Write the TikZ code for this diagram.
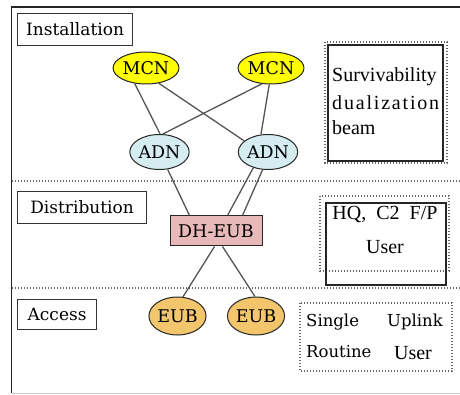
\documentclass[tikz,border=0pt]{standalone}
\usepackage{fontspec}
\setmainfont{Liberation Serif}
\newfontfamily\slabfont{DejaVu Serif}
\usetikzlibrary{shapes.geometric}
\definecolor{mcnfill}{HTML}{FFFF00}
\definecolor{adnfill}{HTML}{D5ECF0}
\definecolor{dhfill}{HTML}{E8B9B9}
\definecolor{eubfill}{HTML}{F3C66E}
\definecolor{edgecol}{HTML}{555555}
\definecolor{dotcol}{HTML}{666666}
\tikzset{
  netnode/.style={ellipse, draw=black!85, line width=1pt, inner sep=0pt,
    font=\slabfont\fontsize{17.5}{19}\selectfont},
  mcnnode/.style={netnode, fill=mcnfill, minimum width=56pt, minimum height=32pt},
  adnnode/.style={netnode, fill=adnfill, minimum width=58pt, minimum height=35pt},
  eubnode/.style={netnode, fill=eubfill, minimum width=52pt, minimum height=38pt},
  dhnode/.style={rectangle, draw=black!85, line width=1pt, fill=dhfill, inner sep=0pt,
    minimum width=92pt, minimum height=30pt, font=\slabfont\fontsize{17.5}{19}\selectfont},
  layerbox/.style={rectangle, draw=black!80, line width=1.2pt, inner sep=0pt,
    anchor=north west, minimum height=32pt, font=\slabfont\fontsize{17}{19}\selectfont},
  link/.style={draw=edgecol, line width=1.3pt},
  dotline/.style={draw=dotcol, line width=1.2pt, dash pattern=on 1.4pt off 1.6pt},
  solidbox/.style={draw=black!85, line width=1.2pt},
  boxtext/.style={inner sep=0pt, font=\fontsize{20}{22}\selectfont},
  slabtext/.style={inner sep=0pt, font=\slabfont\fontsize{16.5}{19}\selectfont},
}
\begin{document}
\begin{tikzpicture}[x=1pt,y=-1pt]
\useasboundingbox (0,0) rectangle (460,395);
% frame
\draw[black!85, line width=1.2pt] (11.5,393) -- (11.5,7) -- (460,7);
\draw[black!20, line width=1pt] (11.5,393.5) -- (460,393.5);
% layer separators
\draw[dotline] (12,181) -- (460,181);
\draw[dotline] (12,288) -- (460,288);
% layer labels
\node[layerbox, minimum width=115pt] (inst) at (17,13) {Installation};
\node[layerbox, minimum width=129pt] (dist) at (17,191) {Distribution};
\node[layerbox, minimum width=79pt, minimum height=30pt] (acc) at (17,299) {Access};
% network nodes
\node[mcnnode] (mcn1) at (146,68) {MCN};
\node[mcnnode] (mcn2) at (271,68) {MCN};
\node[adnnode] (adn1) at (159.5,152) {ADN};
\node[adnnode] (adn2) at (268,152) {ADN};
\node[dhnode] (dh) at (216,231) {DH-EUB};
\node[eubnode] (eub1) at (177.5,316) {EUB};
\node[eubnode] (eub2) at (256,316) {EUB};
% links
\draw[link] (mcn1.234) -- (adn1.88);
\draw[link] (mcn1.310) -- (adn2.155);
\draw[link] (mcn2.240) -- (adn1.80);
\draw[link] (mcn2.264) -- (adn2.112);
\draw[link] (adn1.295) -- ([xshift=20pt]dh.north west);
\draw[link] (adn2.227) -- ([xshift=58pt]dh.north west);
\draw[link] (adn2.253) -- ([xshift=73pt]dh.north west);
\draw[link] ([xshift=45pt]dh.south west) -- (eub1.74);
\draw[link] ([xshift=53pt]dh.south west) -- (eub2.93);
% right box 1
\draw[dotline] (325,42) rectangle (447,163);
\draw[solidbox] (328,45) rectangle (443,161);
\node[boxtext, anchor=west] (s1) at (332,77) {Survivability};
\node[boxtext, anchor=west] (s2) at (332,103) {\makebox[107pt][s]{d\hfil u\hfil a\hfil l\hfil i\hfil z\hfil a\hfil t\hfil i\hfil o\hfil n}};
\node[boxtext, anchor=west] (s3) at (332,128) {beam};
% right box 2
\draw[dotline] (320,196) rectangle (449,271);
\draw[solidbox] (326,203) rectangle (446,285);
\node[boxtext] (h1) at (385,215) {HQ,\hspace{0.5em}C2\hspace{0.5em}F/P};
\node[boxtext] (h2) at (385,247) {User};
% right box 3
\draw[dotline] (300,303) rectangle (452,371);
\node[slabtext, anchor=west] (r1) at (306,322) {Single};
\node[slabtext, anchor=east] (r2) at (443,322) {Uplink};
\node[slabtext, anchor=west] (r3) at (306,352) {Routine};
\node[boxtext] (r4) at (413,353) {User};
\end{tikzpicture}
\end{document}
